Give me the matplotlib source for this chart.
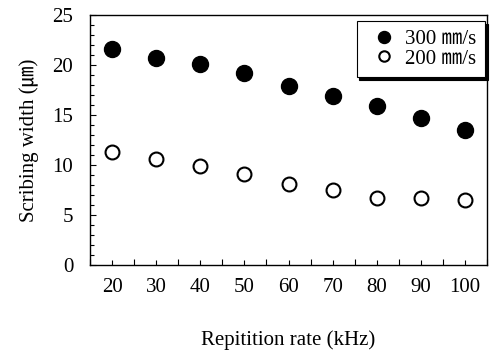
import matplotlib
matplotlib.use("Agg")
import matplotlib.pyplot as plt
from matplotlib.ticker import MultipleLocator, FixedLocator

plt.rcParams['font.family'] = ['Liberation Serif', 'Noto Sans CJK JP']

rates = ["20", "30", "40", "50", "60", "70", "80", "90", "100"]
width_300 = [21.6, 20.7, 20.1, 19.2, 17.9, 16.9, 15.9, 14.7, 13.5]
width_200 = [11.3, 10.6, 9.9, 9.1, 8.1, 7.5, 6.7, 6.7, 6.5]

fig = plt.figure(figsize=(4.97, 3.54), dpi=100)
ax = fig.add_axes([0.181, 0.251, 0.799, 0.707])

x = list(range(len(rates)))
ax.plot(x, width_300, "o", color="black", markersize=11.5, label="300 ㎜/s")
ax.plot(x, width_200, "o", markerfacecolor="white", markeredgecolor="black",
        markeredgewidth=1.5, markersize=10, label="200 ㎜/s")

ax.set_xlim(-0.5, len(rates) - 0.5)
ax.set_ylim(0, 25)
ax.set_xticks(x)
ax.set_xticklabels(rates)
ax.xaxis.set_minor_locator(FixedLocator([i - 0.5 for i in range(len(rates) + 1)]))
ax.yaxis.set_major_locator(MultipleLocator(5))
ax.yaxis.set_minor_locator(MultipleLocator(1))
ax.tick_params(axis="both", which="both", direction="in", labelsize=15,
               top=False, right=False, width=0.8)
ax.tick_params(axis="x", which="major", length=3.5, pad=9)
ax.tick_params(axis="x", which="minor", length=4)
ax.tick_params(axis="y", which="major", length=4, pad=12)
ax.tick_params(axis="y", which="minor", length=3)
for s in ax.spines.values():
    s.set_linewidth(1.0)

ax.set_xlabel("Repitition rate (kHz)", fontsize=15, labelpad=24)
ax.set_ylabel("Scribing width (㎛)", fontsize=15, labelpad=10)

leg = ax.legend(loc="upper right", bbox_to_anchor=(0.995, 0.975), fontsize=15,
                frameon=True, fancybox=False, handletextpad=0.15,
                borderpad=0.4, labelspacing=0.0, handlelength=1.8,
                borderaxespad=0.0, markerscale=0.75,
                shadow={"facecolor": "black", "edgecolor": "black", "alpha": 1})
leg.get_frame().set_edgecolor("black")
leg.get_frame().set_linewidth(0.8)

fig.savefig("out.png", dpi=100)
